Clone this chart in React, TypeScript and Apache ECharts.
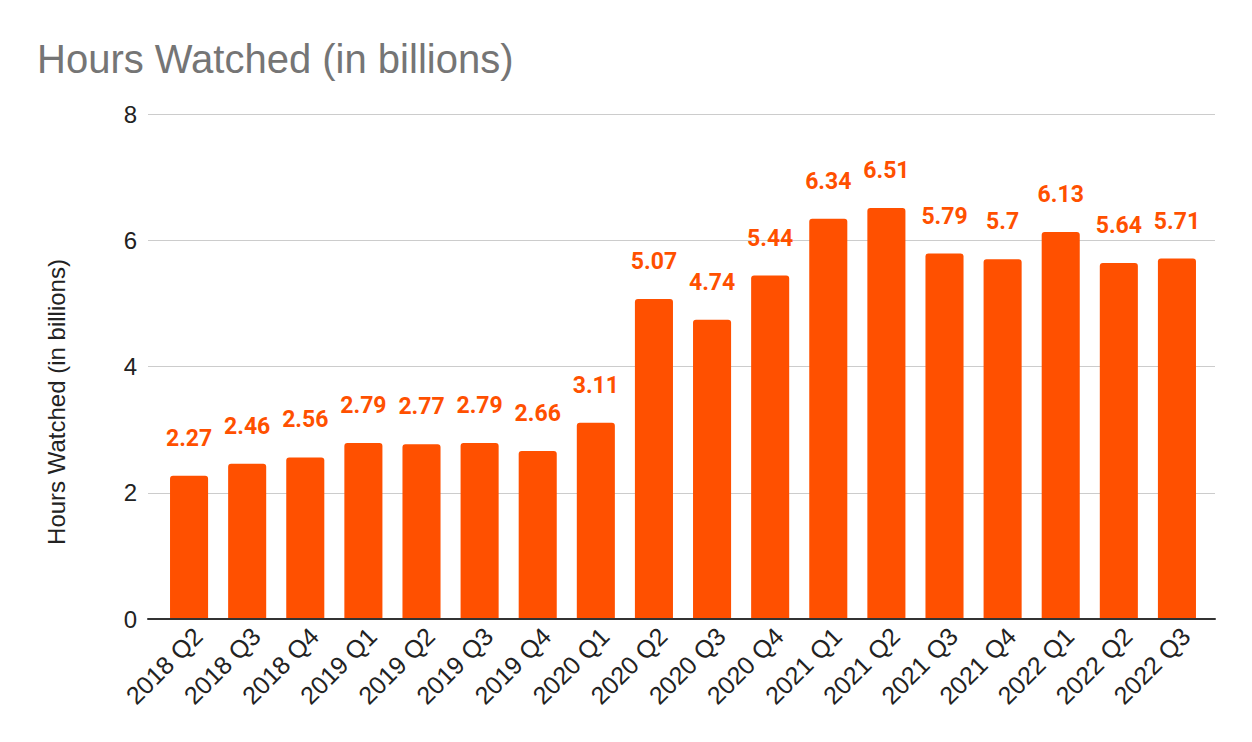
import React, { useEffect, useRef } from "react";
import * as echarts from "echarts";

const categories = [
  "2018 Q2", "2018 Q3", "2018 Q4", "2019 Q1", "2019 Q2", "2019 Q3", "2019 Q4",
  "2020 Q1", "2020 Q2", "2020 Q3", "2020 Q4", "2021 Q1", "2021 Q2", "2021 Q3",
  "2021 Q4", "2022 Q1", "2022 Q2", "2022 Q3",
];
const hoursWatched = [
  2.27, 2.46, 2.56, 2.79, 2.77, 2.79, 2.66, 3.11, 5.07, 4.74, 5.44, 6.34, 6.51,
  5.79, 5.7, 6.13, 5.64, 5.71,
];
const yMin = 0;
const yMax = 8;
const yInterval = 2;
const titleText = "Hours Watched (in billions)";
const yAxisTitle = "Hours Watched (in billions)";

const ORANGE = "#ff5000";
const ARIAL = "'Liberation Sans', Arial, sans-serif";

export default function App() {
  const ref = useRef<HTMLDivElement>(null);
  useEffect(() => {
    if (!ref.current) return;
    const chart = echarts.init(ref.current, null, { renderer: "svg" });
    chart.setOption({
      animation: false,
      backgroundColor: "#ffffff",
      title: {
        text: titleText,
        left: 32,
        top: 34,
        textStyle: {
          fontFamily: ARIAL,
          fontSize: 40,
          fontWeight: "normal",
          color: "#757575",
        },
      },
      grid: [
        { left: 148, right: 37, top: 114, bottom: 123 },
        { left: 160, right: 46, top: 114, bottom: 123 },
      ],
      xAxis: [
        {
          gridIndex: 0,
          type: "value",
          min: 0,
          max: 1,
          z: 5,
          axisLine: { show: true, onZero: false, lineStyle: { color: "#333333", width: 2 } },
          axisTick: { show: false },
          axisLabel: { show: false },
          splitLine: { show: false },
        },
        {
          gridIndex: 1,
          type: "category",
          data: categories,
          axisLine: { show: false },
          axisTick: { show: false },
          axisLabel: {
            rotate: 45,
            interval: 0,
            margin: 4,
            verticalAlign: "top",
            fontFamily: ARIAL,
            fontSize: 25,
            color: "#222222",
          },
        },
      ],
      yAxis: [
        {
          gridIndex: 0,
          type: "value",
          min: yMin,
          max: yMax,
          interval: yInterval,
          name: yAxisTitle,
          nameLocation: "middle",
          nameRotate: 90,
          nameGap: 80,
          nameTextStyle: {
            fontFamily: ARIAL,
            fontSize: 24,
            color: "#222222",
            padding: [0, 71, 0, 0],
          },
          axisLine: { show: false },
          axisTick: { show: false },
          axisLabel: {
            margin: 11,
            fontFamily: ARIAL,
            fontSize: 24,
            color: "#222222",
          },
          splitLine: { show: true, lineStyle: { color: "#cccccc", width: 1 } },
        },
        {
          gridIndex: 1,
          type: "value",
          min: yMin,
          max: yMax,
          interval: yInterval,
          show: false,
          splitLine: { show: false },
        },
      ],
      series: [
        {
          type: "bar",
          xAxisIndex: 1,
          yAxisIndex: 1,
          data: hoursWatched,
          barCategoryGap: "34.5%",
          itemStyle: { color: ORANGE, borderRadius: [3, 3, 0, 0] },
          label: {
            show: true,
            position: "top",
            distance: 26,
            fontFamily: "Roboto, sans-serif",
            fontWeight: "bold",
            fontSize: 23,
            color: ORANGE,
          },
        },
      ],
    });
    return () => chart.dispose();
  }, []);
  return (
    <div
      ref={ref}
      style={{ position: "fixed", left: 0, top: 0, width: 1252, height: 742 }}
    />
  );
}
